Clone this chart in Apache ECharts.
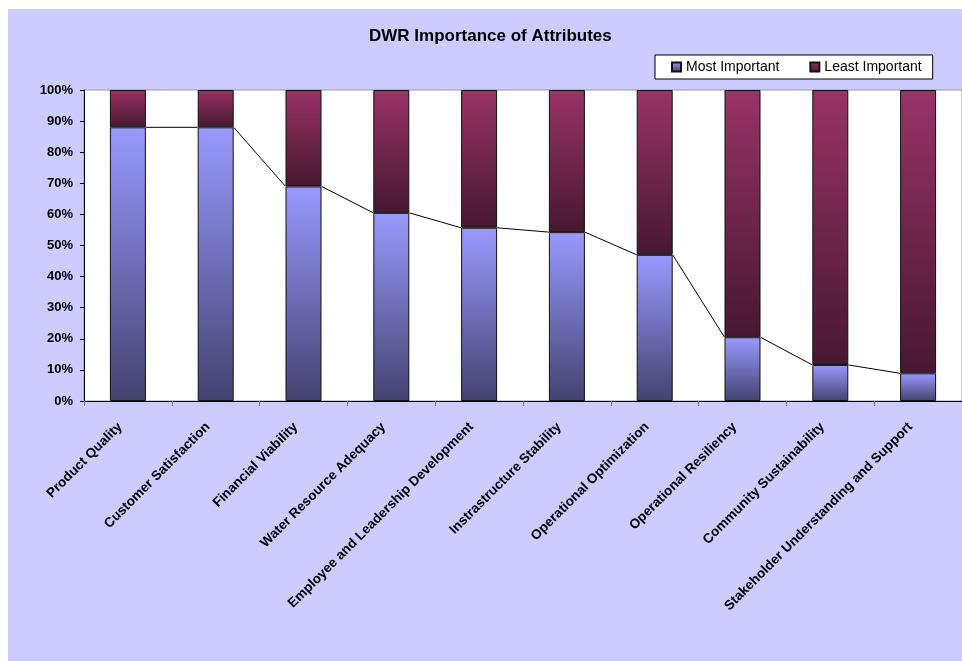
<!DOCTYPE html>
<html>
<head>
<meta charset="utf-8">
<script src="https://cdn.jsdelivr.net/npm/echarts@6/dist/echarts.min.js"></script>
<style>
  html, body { margin: 0; padding: 0; background: #ffffff; }
  #wrap { position: relative; width: 962px; height: 661px; background: #ffffff; overflow: hidden; }
  #chart { position: absolute; left: 8px; top: 9px; width: 954px; height: 652px; background: #ccccff; }
</style>
</head>
<body>
<div id="wrap"><div id="chart"></div></div>
<script>
const categories = [
  'Product Quality',
  'Customer Satisfaction',
  'Financial Viability',
  'Water Resource Adequacy',
  'Employee and Leadership Development',
  'Instrastructure Stability',
  'Operational Optimization',
  'Operational Resiliency',
  'Community Sustainability',
  'Stakeholder Understanding and Support'
];
const mostImportant  = [88, 88, 69, 60.5, 55.7, 54.3, 47, 20.5, 11.6, 8.9];
const leastImportant = [12, 12, 31, 39.5, 44.3, 45.7, 53, 79.5, 88.4, 91.1];
const yTicks = [0, 10, 20, 30, 40, 50, 60, 70, 80, 90, 100];

const BAR_W = 36;
const FONT = '"Liberation Sans", Arial, Helvetica, sans-serif';

const blueGrad = new echarts.graphic.LinearGradient(0, 0, 0, 1, [
  { offset: 0, color: '#9999ff' },
  { offset: 1, color: '#434370' }
]);
const redGrad = new echarts.graphic.LinearGradient(0, 0, 0, 1, [
  { offset: 0, color: '#993366' },
  { offset: 1, color: '#461830' }
]);

const chart = echarts.init(document.getElementById('chart'), null, { renderer: 'canvas' });
chart.setOption({
  animation: false,
  backgroundColor: 'transparent',
  title: {
    text: 'DWR Importance of Attributes',
    left: 361,
    top: 19,
    padding: 0,
    textStyle: { fontFamily: FONT, fontSize: 17, fontWeight: 'bold', color: '#000' }
  },
  legend: {
    data: ['Most Important', 'Least Important'],
    left: 647,
    top: 46,
    padding: [5, 11, 5, 16],
    itemGap: 30,
    itemWidth: 9,
    itemHeight: 9,
    icon: 'rect',
    backgroundColor: '#ffffff',
    borderColor: '#000000',
    borderWidth: 1,
    textStyle: { fontFamily: FONT, fontSize: 14, color: '#000' }
  },
  grid: {
    left: 76, top: 81, right: 0, bottom: 260,
    show: true, backgroundColor: '#ffffff', borderColor: '#999999', borderWidth: 1
  },
  xAxis: {
    type: 'category',
    data: categories,
    axisLine: { lineStyle: { color: '#000', width: 1 } },
    axisTick: { show: true, length: 5, lineStyle: { color: '#777' } },
    axisLabel: {
      interval: 0, rotate: 45, margin: 16,
      padding: [0, 11, 0, 0],
      fontFamily: FONT, fontSize: 13.5, fontWeight: 'bold', color: '#000'
    },
    splitLine: { show: false }
  },
  yAxis: {
    type: 'value',
    min: 0, max: 100, interval: 10,
    axisLine: { show: true, lineStyle: { color: '#000', width: 1 } },
    axisTick: { show: true, length: 4, lineStyle: { color: '#000' } },
    axisLabel: {
      margin: 11, formatter: v => yTicks.includes(v) ? v + '%' : '',
      fontFamily: FONT, fontSize: 13, fontWeight: 'bold', color: '#000'
    },
    splitLine: { show: false }
  },
  series: [
    {
      name: 'Most Important', type: 'bar', stack: 'total', barWidth: BAR_W,
      data: mostImportant,
      itemStyle: { color: blueGrad, borderColor: '#111', borderWidth: 1 },
      emphasis: { disabled: true }
    },
    {
      name: 'Least Important', type: 'bar', stack: 'total', barWidth: BAR_W,
      data: leastImportant,
      itemStyle: { color: redGrad, borderColor: '#111', borderWidth: 1 },
      emphasis: { disabled: true }
    },
    {
      name: 'seriesLines', type: 'custom', z: 5, silent: true,
      encode: { x: 0, y: 1 },
      data: mostImportant.map((v, i) => [i, v]),
      renderItem: function (params, api) {
        const i = params.dataIndex;
        if (i >= mostImportant.length - 1) return null;
        const p1 = api.coord([i, mostImportant[i]]);
        const p2 = api.coord([i + 1, mostImportant[i + 1]]);
        const hw = BAR_W / 2;
        return {
          type: 'line',
          shape: { x1: p1[0] + hw, y1: p1[1], x2: p2[0] - hw, y2: p2[1] },
          style: { stroke: '#000', lineWidth: 1 }
        };
      }
    }
  ]
});
</script>
</body>
</html>
